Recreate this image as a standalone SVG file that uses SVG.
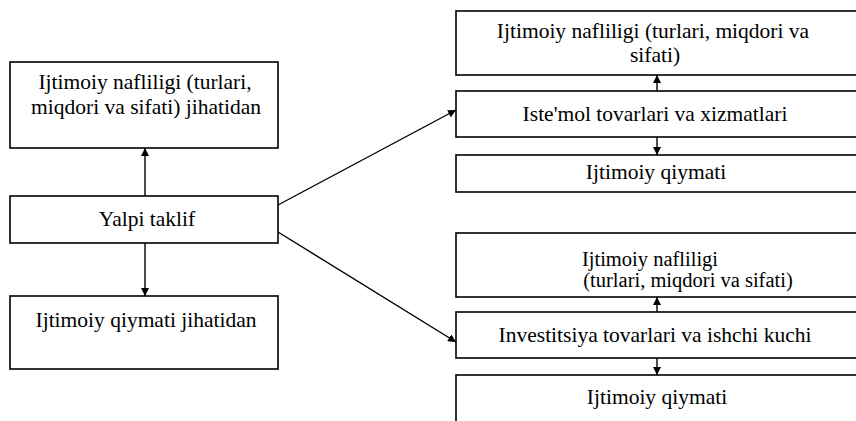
<svg xmlns="http://www.w3.org/2000/svg" width="856" height="421" viewBox="0 0 856 421">
<defs>
<marker id="ah" viewBox="0 0 10 10" refX="10" refY="5" markerWidth="8" markerHeight="8" markerUnits="userSpaceOnUse" orient="auto">
<path d="M0,0 L10,5 L0,10 z" fill="#000"/>
</marker>
<style>
.box{fill:#fff;stroke:#000;stroke-width:1.6}
text{font-family:'Liberation Serif','Times New Roman',serif;font-size:21.5px;fill:#000;text-anchor:middle}
.sm{font-size:20.5px}
.ln{stroke:#000;stroke-width:1.4;fill:none;marker-end:url(#ah)}
</style>
</defs>
<rect width="856" height="421" fill="#fff"/>
<g id="n-left-top">
<rect class="box" x="10" y="62" width="268" height="86"/>
<text x="145" y="89">Ijtimoiy nafliligi (turlari,</text>
<text x="146" y="114">miqdori va sifati) jihatidan</text>
</g>
<g id="n-yalpi">
<rect class="box" x="10" y="196" width="268" height="47"/>
<text x="147" y="226">Yalpi taklif</text>
</g>
<g id="n-left-bottom">
<rect class="box" x="10" y="296" width="268" height="73"/>
<text x="146" y="327">Ijtimoiy qiymati jihatidan</text>
</g>
<g id="n-r1">
<rect class="box" x="456" y="11" width="410" height="64"/>
<text x="653" y="38">Ijtimoiy nafliligi (turlari, miqdori va</text>
<text x="655" y="62">sifati)</text>
</g>
<g id="n-r2">
<rect class="box" x="456" y="91" width="410" height="46"/>
<text x="655" y="121">Iste'mol tovarlari va xizmatlari</text>
</g>
<g id="n-r3">
<rect class="box" x="456" y="155" width="410" height="37"/>
<text x="656" y="179">Ijtimoiy qiymati</text>
</g>
<g id="n-r4">
<rect class="box" x="456" y="233" width="410" height="64"/>
<text class="sm" x="650" y="266">Ijtimoiy nafliligi</text>
<text class="sm" x="688" y="287">(turlari, miqdori va sifati)</text>
</g>
<g id="n-r5">
<rect class="box" x="456" y="312" width="410" height="46"/>
<text x="655" y="342">Investitsiya tovarlari va ishchi kuchi</text>
</g>
<g id="n-r6">
<rect class="box" x="456" y="375" width="410" height="60"/>
<text x="657" y="404">Ijtimoiy qiymati</text>
</g>
<g id="connectors">
<line class="ln" x1="145" y1="196" x2="145" y2="148"/>
<line class="ln" x1="145" y1="243" x2="145" y2="296"/>
<line class="ln" x1="278" y1="205" x2="456" y2="110"/>
<line class="ln" x1="278" y1="232" x2="456" y2="342"/>
<line class="ln" x1="657" y1="91" x2="657" y2="75"/>
<line class="ln" x1="657" y1="137" x2="657" y2="155"/>
<line class="ln" x1="657" y1="312" x2="657" y2="297"/>
<line class="ln" x1="657" y1="358" x2="657" y2="375"/>
</g>
</svg>
